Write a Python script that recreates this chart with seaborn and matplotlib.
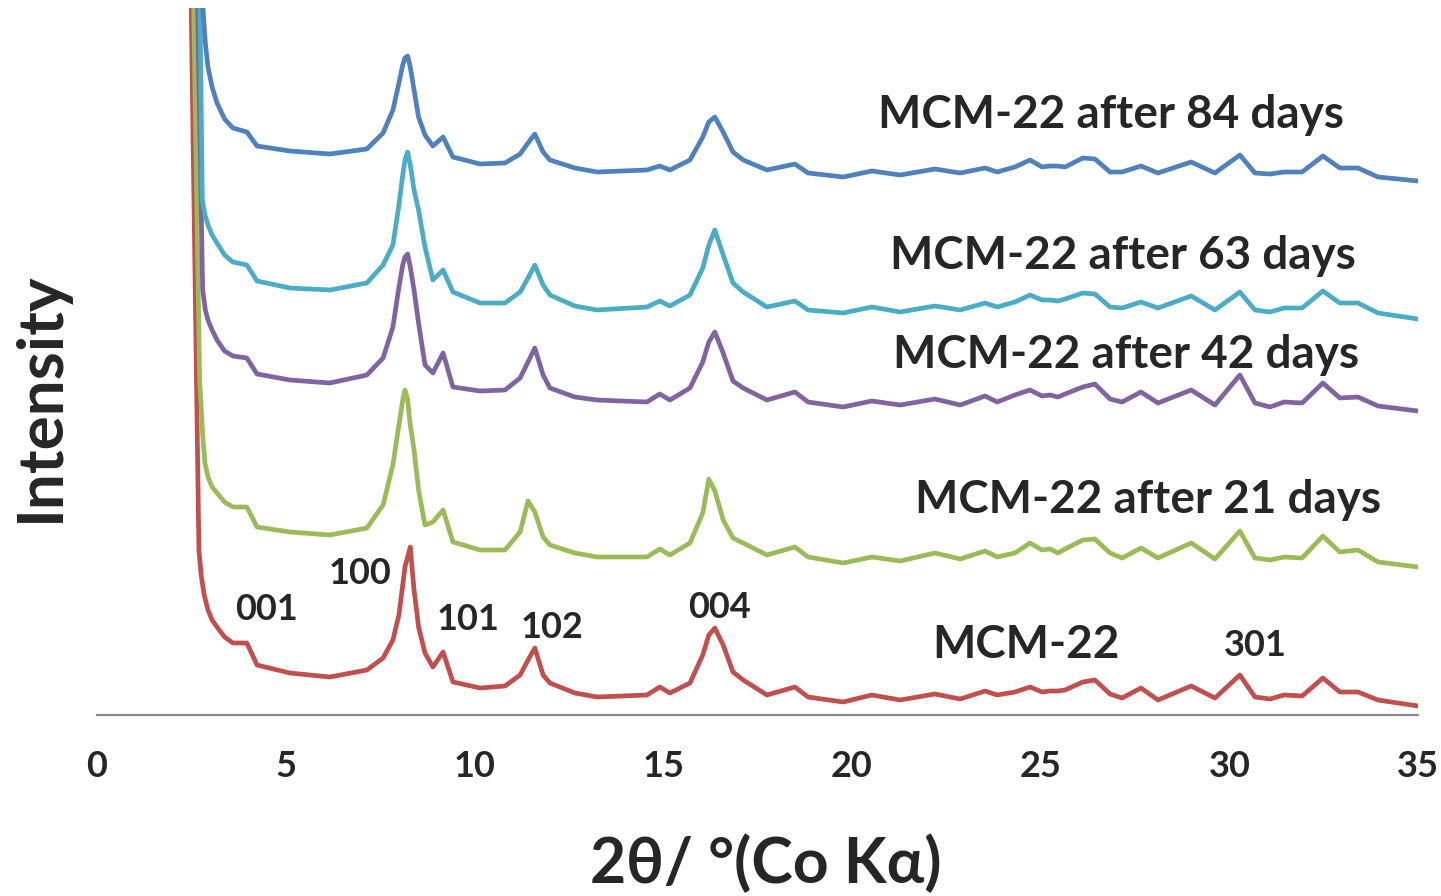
import matplotlib
matplotlib.use('Agg')
import matplotlib.pyplot as plt
import numpy as np
import pandas as pd
import seaborn as sns

# 2-theta grid shared by all patterns (deg, Co K-alpha)
TWO_THETA = [3.18, 3.38, 3.60, 3.97, 4.24, 5.11, 6.17, 7.15, 7.58, 7.84,
             8.00, 8.10, 8.16, 8.23, 8.30, 8.40, 8.52, 8.69, 8.90, 9.17,
             9.43, 10.15, 10.81, 11.21, 11.42, 11.60, 11.82, 12.00, 12.66, 13.25,
             14.57, 14.91, 15.18, 15.71, 16.05, 16.21, 16.37, 16.59, 16.85, 17.12,
             17.75, 18.49, 18.84, 19.77, 20.53, 21.28, 22.20, 22.87, 23.53, 23.85,
             24.32, 24.72, 25.04, 25.25, 25.46, 25.65, 26.12, 26.44, 26.84, 27.16,
             27.66, 28.11, 28.99, 29.62, 30.28, 30.68, 31.08, 31.45, 31.93, 32.48,
             32.93, 33.41, 33.94, 35.00]

# stacked intensities (a.u., offset as in the figure)
I_84 = [612, 596, 587, 583, 569, 564, 561, 566, 582, 605,
        632, 650, 657, 659, 648, 625, 598, 580, 569, 578,
        558, 551, 552, 561, 572, 581, 563, 555, 547, 543,
        545, 549, 545, 555, 578, 593, 598, 583, 563, 555,
        545, 551, 542, 538, 544, 540, 546, 542, 547, 543,
        548, 555, 548, 549, 549, 548, 557, 556, 543, 543,
        549, 542, 553, 542, 560, 542, 541, 543, 543, 559,
        547, 547, 538, 534]
I_63 = [472, 460, 453, 450, 434, 427, 425, 432, 450, 470,
        510, 540, 555, 563, 550, 525, 505, 468, 435, 445,
        423, 412, 412, 423, 437, 450, 430, 420, 409, 405,
        408, 414, 409, 420, 447, 470, 485, 460, 432, 423,
        408, 414, 405, 402, 408, 403, 409, 405, 412, 408,
        413, 420, 415, 415, 414, 416, 422, 421, 408, 407,
        413, 407, 419, 405, 423, 405, 403, 407, 407, 424,
        412, 412, 402, 396]
I_42 = [375, 364, 359, 357, 341, 335, 332, 340, 357, 388,
        428, 450, 458, 461, 448, 425, 392, 350, 342, 362,
        328, 324, 325, 337, 353, 367, 340, 327, 318, 315,
        313, 321, 315, 327, 353, 373, 383, 362, 334, 327,
        315, 323, 313, 308, 314, 310, 316, 310, 319, 313,
        320, 325, 319, 320, 318, 321, 328, 331, 316, 313,
        323, 312, 325, 310, 340, 312, 308, 313, 312, 332,
        317, 318, 309, 304]
I_21 = [222, 213, 208, 208, 188, 183, 180, 187, 210, 250,
        290, 315, 325, 315, 290, 265, 225, 190, 193, 205,
        173, 165, 165, 183, 214, 203, 178, 170, 162, 158,
        158, 166, 160, 172, 202, 236, 224, 195, 177, 172,
        160, 168, 158, 152, 158, 154, 162, 156, 164, 158,
        162, 172, 165, 166, 162, 166, 175, 176, 162, 157,
        167, 157, 172, 156, 184, 157, 155, 158, 157, 179,
        163, 165, 153, 148]
I_0 = [88, 78, 72, 72, 50, 42, 38, 45, 57, 75,
       100, 130, 148, 158, 168, 125, 88, 62, 48, 63,
       33, 27, 29, 40, 55, 67, 40, 32, 22, 18,
       20, 28, 22, 32, 60, 80, 87, 70, 43, 35,
       20, 28, 18, 13, 20, 15, 21, 16, 24, 20,
       23, 28, 23, 24, 24, 25, 33, 35, 21, 17,
       27, 15, 29, 17, 40, 18, 16, 20, 19, 37,
       23, 23, 15, 9]

# low-angle rise of each pattern (runs off the top of the plot)
ONSET_2T = {
    'MCM-22': [2.46, 2.70, 2.76, 2.84, 2.94, 3.05],
    '21 days': [2.52, 2.72, 2.80, 2.86, 2.94, 3.05],
    '42 days': [2.62, 2.80, 2.87, 2.94, 3.05],
    '63 days': [2.70, 2.79, 2.86, 2.94, 3.05],
    '84 days': [2.78, 2.81, 2.87, 2.94, 3.05],
}
ONSET_I = {
    'MCM-22': [805, 165, 140, 120, 105, 95],
    '21 days': [805, 335, 280, 252, 238, 228],
    '42 days': [805, 425, 405, 395, 385],
    '63 days': [805, 515, 500, 490, 480],
    '84 days': [800, 705, 672, 648, 628],
}

SAMPLES = ['MCM-22', '21 days', '42 days', '63 days', '84 days']
BODY = {'MCM-22': I_0, '21 days': I_21, '42 days': I_42,
        '63 days': I_63, '84 days': I_84}
COLORS = {'MCM-22': '#C0504D', '21 days': '#9BBB59', '42 days': '#8064A2',
          '63 days': '#4BACC6', '84 days': '#4F81BD'}

CURVE_LABELS = [('MCM-22 after 84 days', 20.69, 600),
                ('MCM-22 after 63 days', 21.01, 459),
                ('MCM-22 after 42 days', 21.09, 360),
                ('MCM-22 after 21 days', 21.67, 215),
                ('MCM-22', 22.12, 70)]
HKL = [('001', 4.50, 105), ('100', 6.97, 142), ('101', 9.83, 95),
       ('102', 12.06, 87), ('004', 16.48, 107), ('301', 30.68, 69)]

rows = []
for s in SAMPLES:
    xs = ONSET_2T[s] + TWO_THETA
    ys = ONSET_I[s] + BODY[s]
    for x, y in zip(xs, ys):
        rows.append({'two_theta': x, 'intensity': y, 'sample': s})
df = pd.DataFrame(rows)

sns.set_theme(style='white')
plt.rcParams['font.family'] = ['Lato', 'DejaVu Sans']

fig = plt.figure(figsize=(14.41, 8.96), dpi=100)
ax = fig.add_axes([97 / 1441, 1 - 715 / 896, 1321 / 1441, 707 / 896])

sns.lineplot(data=df, x='two_theta', y='intensity', hue='sample',
             hue_order=SAMPLES, palette=COLORS, estimator=None, sort=False,
             linewidth=3.4, legend=False, ax=ax)
for ln in ax.lines:
    ln.set_solid_joinstyle('round')

ax.set_xlim(0, 35)
ax.set_ylim(0, 707)
ax.set_xticks(range(0, 36, 5))
ax.set_yticks([])
for side in ('top', 'right', 'left'):
    ax.spines[side].set_visible(False)
ax.spines['bottom'].set_color('#8a8a8a')
ax.spines['bottom'].set_linewidth(1.6)
ax.tick_params(axis='x', direction='out', length=9, width=1.6, color='#8a8a8a',
               labelsize=26, pad=16)
for lab in ax.get_xticklabels():
    lab.set_fontweight('bold')

ax.set_xlabel('2θ/ °(Co Kα)', fontsize=45, fontweight='bold', va='center')
ax.xaxis.set_label_coords(0.506, -0.211)
ax.set_ylabel('Intensity', fontsize=46, fontweight='bold', va='center')
ax.yaxis.set_label_coords(-0.043, 0.45)

for txt, x, y in CURVE_LABELS:
    ax.text(x, y, txt, fontsize=33, fontweight='bold', ha='left', va='center')
for txt, x, y in HKL:
    ax.text(x, y, txt, fontsize=26, fontweight='bold', ha='center', va='center')

fig.savefig('out.png', dpi=100)
